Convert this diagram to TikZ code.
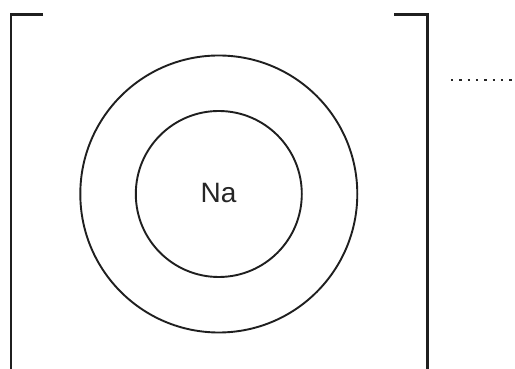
\documentclass[tikz,border=0pt]{standalone}
\usepackage{fontspec}
\setmainfont{Liberation Sans}
\begin{document}
\begin{tikzpicture}[x=1pt,y=1pt,
  ln/.style={line width=2.2pt, draw=black!88},
  shell/.style={circle, line width=1.9pt, draw=black!88, inner sep=0pt}]
\useasboundingbox (0,0) rectangle (515,369);
\fill[white] (0,0) rectangle (515,369);
% brackets
\draw[ln] (43,354.5) -- (11,354.5) -- (11,-2);
\draw[ln] (394,354.5) -- (427.5,354.5) -- (427.5,-2);
% shells
\coordinate (c) at (218.8,175);
\node[shell, minimum size=277pt] (outer) at (c) {};
\node[shell, minimum size=166pt] (inner) at (c) {};
\node[font=\fontsize{28}{30}\selectfont, text=black!85] (na) at (218.5,176) {Na};
% dots
\draw[line width=2.4pt, black!85, dash pattern=on 2.4pt off 5.9pt] (451,289) -- (512,289);
\end{tikzpicture}
\end{document}
